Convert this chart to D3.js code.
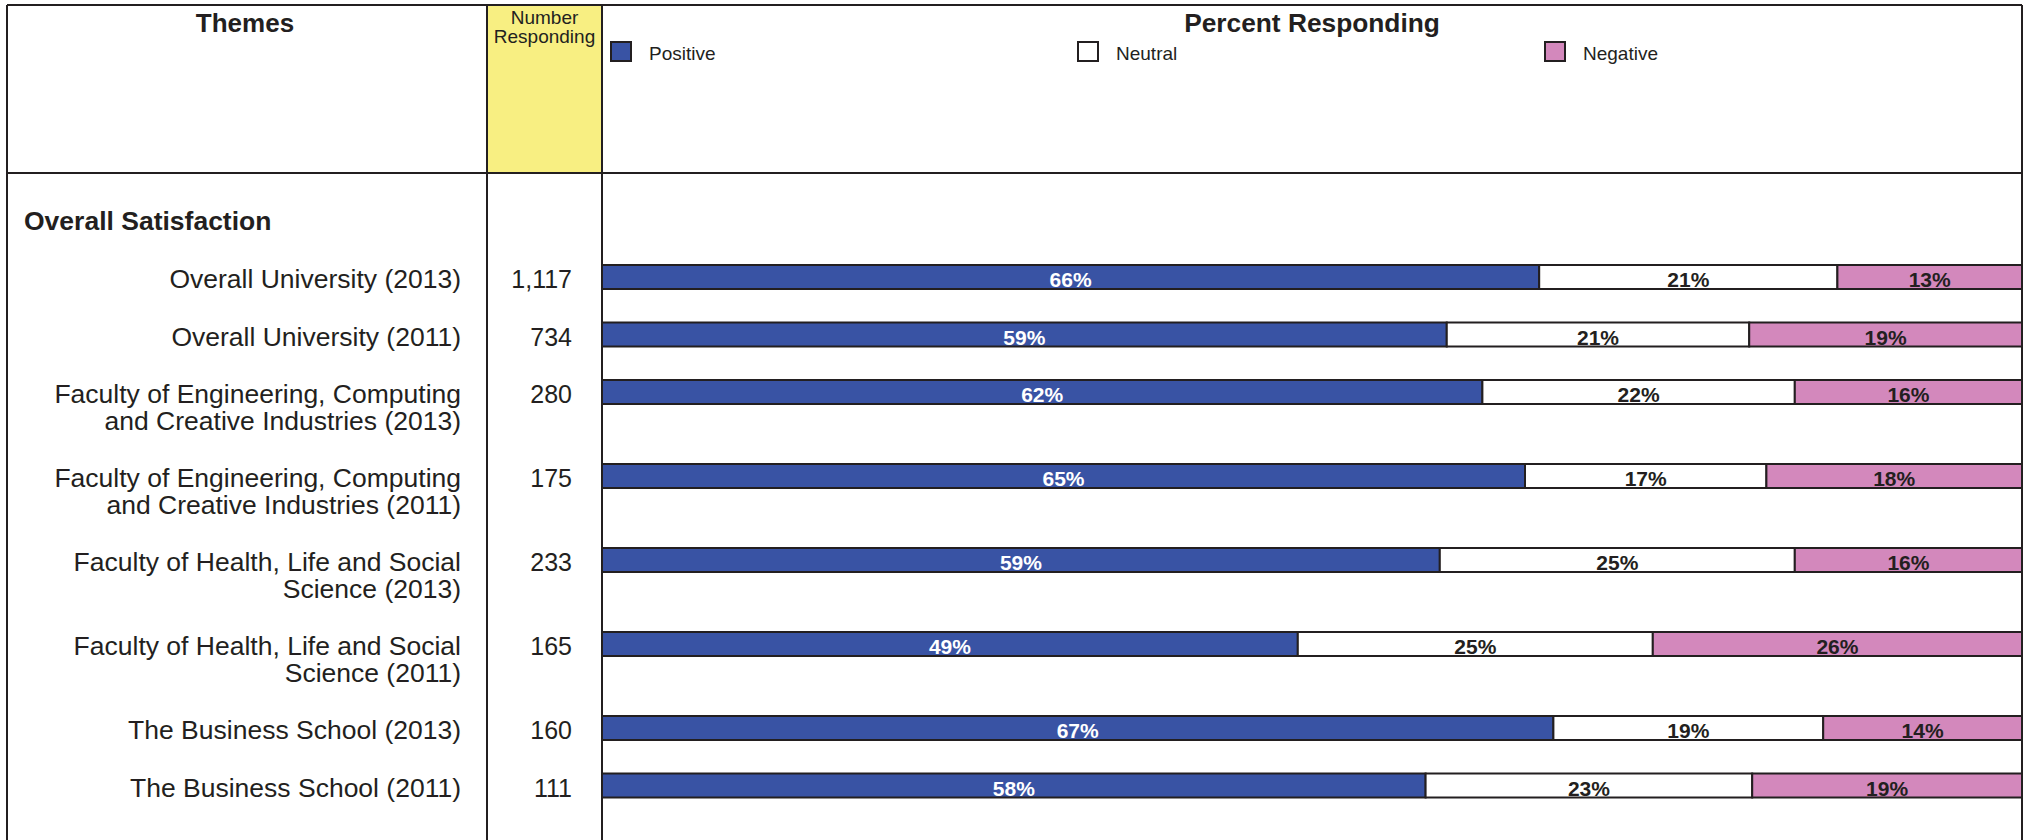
<!DOCTYPE html>
<html>
<head>
<meta charset="utf-8">
<script src="https://cdn.jsdelivr.net/npm/d3@7"></script>
<style>
  body { margin: 0; background: #fff; }
  svg { display: block; font-family: Arial, "Liberation Sans", sans-serif; }
  .frame { stroke: #231f20; stroke-width: 2; fill: none; }
  .seg { stroke: #231f20; stroke-width: 2; }
</style>
</head>
<body>
<div id="chart"></div>
<script>
// data
var themes = [
  ["Overall University (2013)"],
  ["Overall University (2011)"],
  ["Faculty of Engineering, Computing", "and Creative Industries (2013)"],
  ["Faculty of Engineering, Computing", "and Creative Industries (2011)"],
  ["Faculty of Health, Life and Social", "Science (2013)"],
  ["Faculty of Health, Life and Social", "Science (2011)"],
  ["The Business School (2013)"],
  ["The Business School (2011)"]
];
var responding = [1117, 734, 280, 175, 233, 165, 160, 111];
var positive = [66, 59.49, 62, 65, 59, 49, 67, 58];
var neutral  = [21, 21.3, 22, 17, 25, 25, 19, 23];
var negative = [13, 19.21, 16, 18, 16, 26, 14, 19];

var seriesNames = ["Positive", "Neutral", "Negative"];
var seriesKeys = ["positive", "neutral", "negative"];
var seriesColors = ["#3953a4", "#ffffff", "#d388bc"];
var labelColors = ["#ffffff", "#231f20", "#231f20"];

/*
 * layout
 */
var width = 2023, height = 840;
var leftX = 7, rightX = 2022, topY = 5, headBottom = 173;
var col1 = 487, col2 = 602;
var barH = 24;
var lineH = 26.5;

var svg = d3.select("#chart").append("svg")
  .attr("width", width)
  .attr("height", height);

var rows = themes.map(function(t, i) {
  return {id: i, lines: t, n: responding[i],
    positive: positive[i], neutral: neutral[i], negative: negative[i]};
});

// each row takes a gap plus one text line per label line
var rowSpan = rows.map(function(r) { return 31 + lineH * r.lines.length; });
var tops = [265].concat(Array.from(d3.cumsum(rowSpan)).slice(0, -1).map(function(s) { return 265 + s; }));
var y = d3.scaleOrdinal().domain(rows.map(function(r) { return r.id; })).range(tops);
var x = d3.scaleLinear().domain([0, 100]).range([col2, rightX]);

// header backgrounds
svg.append("rect")
  .attr("x", col1).attr("y", topY)
  .attr("width", col2 - col1).attr("height", headBottom - topY)
  .attr("fill", "#f8ef82");

// grid lines
var frame = svg.append("g").attr("class", "frame");
[[leftX, topY, rightX, topY], [leftX, headBottom, rightX, headBottom],
 [leftX, topY, leftX, height], [col1, topY, col1, height],
 [col2, topY, col2, height], [rightX, topY, rightX, height]].forEach(function(l) {
  frame.append("line")
    .attr("x1", l[0]).attr("y1", l[1])
    .attr("x2", l[2]).attr("y2", l[3]);
});

// header text
svg.append("text")
  .attr("x", 245).attr("y", 32)
  .attr("text-anchor", "middle")
  .attr("font-size", 26).attr("font-weight", "bold")
  .attr("fill", "#231f20")
  .text("Themes");

svg.append("text")
  .attr("x", (col1 + col2) / 2).attr("y", 24)
  .attr("text-anchor", "middle")
  .attr("font-size", 19).attr("fill", "#231f20")
  .selectAll("tspan").data(["Number", "Responding"]).join("tspan")
    .attr("x", (col1 + col2) / 2)
    .attr("dy", function(d, i) { return i ? 19 : 0; })
    .text(function(d) { return d; });

svg.append("text")
  .attr("x", (col2 + rightX) / 2).attr("y", 32)
  .attr("text-anchor", "middle")
  .attr("font-size", 26.3).attr("font-weight", "bold")
  .attr("fill", "#231f20")
  .text("Percent Responding");

// legend
var legend = svg.append("g").selectAll("g")
  .data(seriesNames).join("g")
  .attr("transform", function(d, i) { return "translate(" + (611 + i * 467) + ",42)"; });
legend.append("rect")
  .attr("class", "seg")
  .attr("width", 20).attr("height", 19)
  .attr("fill", function(d, i) { return seriesColors[i]; });
legend.append("text")
  .attr("x", 38).attr("y", 18)
  .attr("font-size", 19).attr("fill", "#231f20")
  .text(function(d) { return d; });

// section title
svg.append("text")
  .attr("x", 24).attr("y", 230)
  .attr("font-size", 26.5).attr("font-weight", "bold")
  .attr("fill", "#231f20")
  .text("Overall Satisfaction");

// row labels + counts
var rowText = svg.append("g").selectAll("g")
  .data(rows).join("g")
  .attr("transform", function(d) { return "translate(0," + (y(d.id) + barH - 1) + ")"; });

rowText.append("text")
  .attr("text-anchor", "end")
  .attr("font-size", 26.5).attr("fill", "#231f20")
  .selectAll("tspan").data(function(d) { return d.lines; }).join("tspan")
    .attr("x", 461)
    .attr("dy", function(d, i) { return i ? lineH : 0; })
    .text(function(d) { return d; });

rowText.append("text")
  .attr("x", 572)
  .attr("text-anchor", "end")
  .attr("font-size", 25).attr("fill", "#231f20")
  .text(function(d) { return d3.format(",")(d.n); });

// stacked bars
var stacked = d3.stack().keys(seriesKeys)(rows);

var layer = svg.append("g").selectAll("g")
  .data(stacked).join("g");

layer.selectAll("rect")
  .data(function(s) { return s; }).join("rect")
  .attr("class", "seg")
  .attr("x", function(d) { return x(d[0]); })
  .attr("y", function(d) { return y(d.data.id); })
  .attr("width", function(d) { return x(d[1]) - x(d[0]); })
  .attr("height", barH)
  .attr("fill", function(d, i, nodes) { return seriesColors[d3.select(nodes[i].parentNode).datum().index]; });

layer.selectAll("text")
  .data(function(s) { return s.map(function(d) { return {d: d, k: s.index}; }); }).join("text")
  .attr("x", function(e) { return (x(e.d[0]) + x(e.d[1])) / 2; })
  .attr("y", function(e) { return y(e.d.data.id) + barH - 2; })
  .attr("text-anchor", "middle")
  .attr("font-size", 21).attr("font-weight", "bold")
  .attr("fill", function(e) { return labelColors[e.k]; })
  .text(function(e) { return Math.round(e.d[1] - e.d[0]) + "%"; });
</script>
</body>
</html>
